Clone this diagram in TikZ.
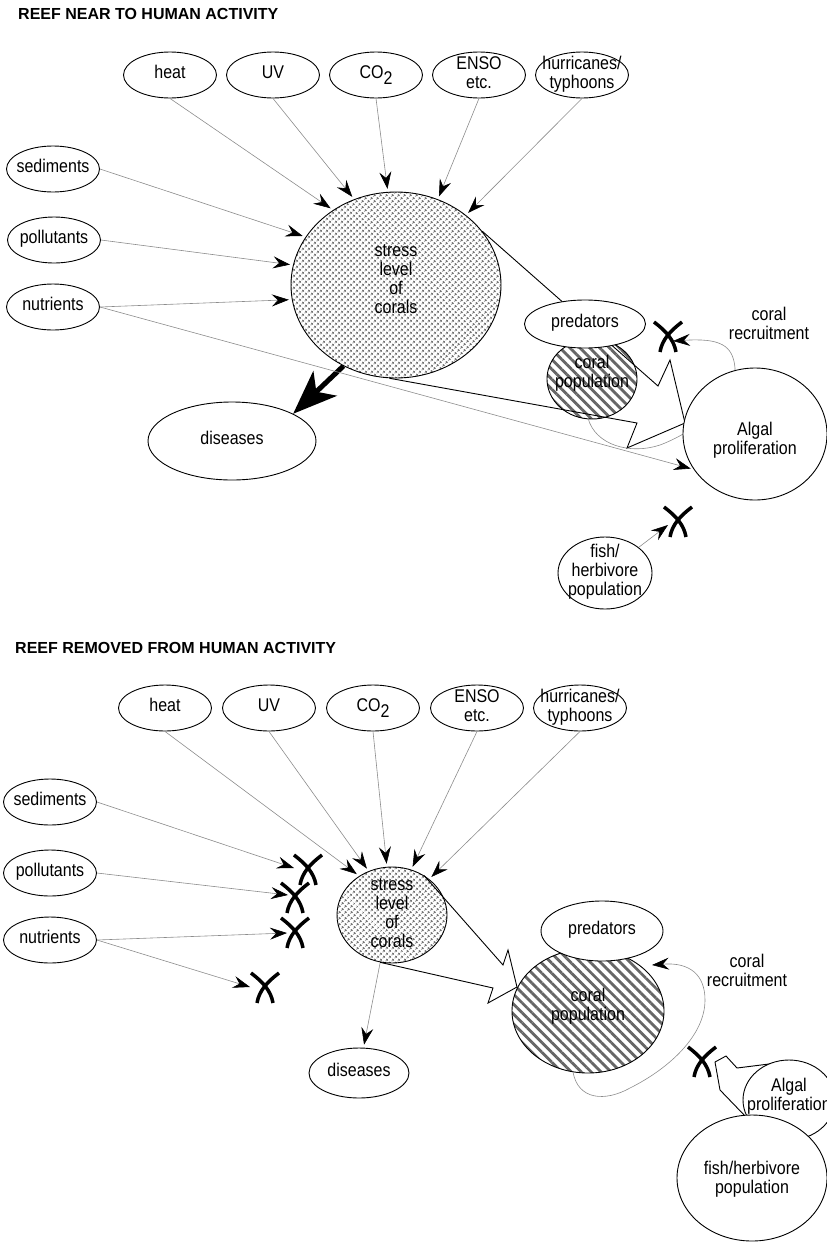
\documentclass[tikz,border=0pt]{standalone}
\usepackage{graphicx}
\usepackage{fontspec}
\setmainfont{Liberation Sans}
\usetikzlibrary{shapes.geometric,arrows.meta,patterns.meta}
\newcommand\ctext[2][0pt]{\smash{\makebox[0pt]{\raisebox{\dimexpr-0.3em+#1\relax}{\scalebox{1}[1.15]{\begin{tabular}{@{}c@{}}#2\end{tabular}}}}}}
\tikzset{
 oval/.style={ellipse,draw,line width=0.9pt,fill=white,inner sep=0pt,minimum width=93pt,minimum height=46pt},
 conn/.style={draw=black!45,line width=0.6pt,-{Stealth[length=17pt,width=12pt,inset=6pt,color=black]},shorten >=3pt},
 connx/.style={conn,shorten >=0pt},
 hollow/.style={draw,line width=0.9pt,line join=miter},
 xstroke/.style={line width=3.5pt},
 bigarrow/.style={line width=5pt,-{Stealth[length=44pt,width=34pt,inset=12pt]}},
 titletext/.style={font=\fontsize{16}{18}\selectfont\bfseries,anchor=base west,inner sep=0pt},
 stressfill/.style={ellipse,draw,line width=0.9pt,inner sep=0pt,preaction={fill=white},pattern={Dots[distance=4pt,radius=1.4pt,angle=45]},pattern color=black!55},
 hatchfill/.style={ellipse,draw,line width=0.9pt,inner sep=0pt,preaction={fill=white},pattern={Lines[angle=-45,distance=7pt,line width=2.8pt]},pattern color=black!60},
 xmark/.pic={
  \draw[xstroke] (-14,-15) .. controls (-2,-6) and (6,3) .. (8,15);
  \draw[xstroke] (14,-15) .. controls (2,-6) and (-6,3) .. (-8,15);
 }
}
\begin{document}
\begin{tikzpicture}[x=1pt,y=-1pt,font=\fontsize{16}{16.5}\selectfont]
\useasboundingbox (0,0) rectangle (827,1243);
\clip (0,0) rectangle (827,1243);

%================ TOP =================
\node[titletext] (t1) at (18,19) {REEF NEAR TO HUMAN ACTIVITY};

\node[oval] (heatA) at (170,75) {\ctext{heat}};
\node[oval] (uvA) at (273,75) {\ctext{UV}};
\node[oval] (co2A) at (376,75) {\ctext{CO\raisebox{-5pt}{2}}};
\node[oval] (ensoA) at (479,75) {\ctext{ENSO\\etc.}};
\node[oval] (hurA) at (582,75) {\ctext{hurricanes/\\typhoons}};
\node[oval] (sedA) at (53,169) {\ctext{sediments}};
\node[oval] (polA) at (54,240) {\ctext{pollutants}};
\node[oval] (nutA) at (53,307) {\ctext{nutrients}};

\node[stressfill,minimum width=210pt,minimum height=186pt] (stressA) at (396,285) {\ctext[4pt]{stress\\level\\of\\corals}};
\node[oval,minimum width=168pt,minimum height=78pt] (diseasesA) at (232,441) {\ctext{diseases}};

\draw[conn] (heatA.south) -- (stressA.130);
\draw[conn] (uvA.south) -- (stressA.116);
\draw[conn] (co2A.south) -- (stressA.95);
\draw[conn] (ensoA.south) -- (stressA.64);
\draw[conn] (hurA.south) -- (stressA.45);
\draw[conn] (sedA.east) -- (stressA.152);
\draw[conn] (polA.east) -- (stressA.169);
\draw[conn] (nutA.east) -- (stressA.188);

\draw[bigarrow] (stressA.237) -- (diseasesA.24);

\node[hatchfill,minimum width=90pt,minimum height=80pt] (coralA) at (592,379) {\ctext[5pt]{coral\\population}};

% hollow zigzag arrow stress -> algal
\draw[hollow] (stressA.32) -- (658,386) -- (670,360) -- (685,423) -- (627,448) -- (637,423) -- (stressA.266);

% coral recruitment loop (partly behind algal)
\coordinate (recA) at (673,341);
\draw[conn,shorten >=0pt] (588,418) .. controls (595,445) and (630,455) .. (660,445) .. controls (700,430) and (738,395) .. (735,368) .. controls (733,345) and (720,338) .. (recA);

\node[oval,minimum width=121pt,minimum height=48pt] (predA) at (585,324) {\ctext{predators}};

\node[oval,minimum width=144pt,minimum height=132pt] (algalA) at (755,434) {\ctext[-7pt]{Algal\\proliferation}};
\draw[conn] (nutA.east) -- (algalA.210);

\node[oval,minimum width=94pt,minimum height=72pt] (fishA) at (605,573) {\ctext{fish/\\herbivore\\population}};
\coordinate (fishtipA) at (668,525);
\draw[connx] (fishA) -- (fishtipA);

\node[inner sep=0pt] (recLabelA) at (769,326) {\ctext{coral\\recruitment}};

\pic at (668,337) {xmark};
\pic at (678,522) {xmark};

%================ BOTTOM =================
\node[titletext] (t2) at (15,653) {REEF REMOVED FROM HUMAN ACTIVITY};

\node[oval] (heatB) at (165,708) {\ctext{heat}};
\node[oval] (uvB) at (269,708) {\ctext{UV}};
\node[oval] (co2B) at (373,708) {\ctext{CO\raisebox{-5pt}{2}}};
\node[oval] (ensoB) at (477,708) {\ctext{ENSO\\etc.}};
\node[oval] (hurB) at (580,708) {\ctext{hurricanes/\\typhoons}};
\node[oval] (sedB) at (50,802) {\ctext{sediments}};
\node[oval] (polB) at (50,873) {\ctext{pollutants}};
\node[oval] (nutB) at (50,940) {\ctext{nutrients}};

\node[stressfill,minimum width=110pt,minimum height=96pt] (stressB) at (392,915) {\ctext[0pt]{stress\\level\\of\\corals}};
\node[oval,minimum width=100pt,minimum height=50pt] (diseasesB) at (359,1073) {\ctext{diseases}};

\draw[conn] (heatB.south) -- (stressB.130);
\draw[conn] (uvB.south) -- (stressB.118);
\draw[conn] (co2B.south) -- (stressB.96);
\draw[conn] (ensoB.south) -- (stressB.67);
\draw[conn] (hurB.south) -- (stressB.44);
\draw[conn] (stressB.256) -- (diseasesB.80);

\coordinate (tsed) at (294,868);
\coordinate (tpol) at (288,895);
\coordinate (tnut1) at (287,933);
\coordinate (tnut2) at (250,987);
\draw[connx] (sedB.east) -- (tsed);
\draw[connx] (polB.east) -- (tpol);
\draw[connx] (nutB.east) -- (tnut1);
\draw[connx] (nutB.east) -- (tnut2);
\pic at (308,870) {xmark};
\pic at (295,898) {xmark};
\pic at (295,933) {xmark};
\pic at (265,988) {xmark};

\node[hatchfill,minimum width=152pt,minimum height=124pt] (coralB) at (588,1011) {\ctext[4pt]{coral\\population}};
\draw[hollow] (stressB.51) -- (503,965) -- (508,950) -- (517,987) -- (488,1003) -- (493,988) -- (stressB.256);

\node[oval,minimum width=122pt,minimum height=60pt] (predB) at (602,931) {\ctext{predators}};

\coordinate (recB) at (652,965);
\draw[conn,shorten >=0pt] (573,1072) .. controls (578,1100) and (605,1102) .. (630,1088) .. controls (670,1068) and (705,1035) .. (705,1000) .. controls (705,975) and (690,962) .. (recB);
\node[inner sep=0pt] (recLabelB) at (747,973) {\ctext{coral\\recruitment}};

% hollow arrow from algal towards X
\draw[hollow] (793,1061) -- (737,1068) -- (726,1056) -- (715,1062) -- (720,1090) -- (747,1118);
\node[oval,minimum width=92pt,minimum height=80pt] (algalB) at (789,1100) {\ctext[3pt]{Algal\\proliferation}};
\node[oval,minimum width=150pt,minimum height=126pt] (fishB) at (752,1178) {\ctext[-2pt]{fish/herbivore\\population}};
\pic at (702,1062) {xmark};
\end{tikzpicture}
\end{document}
